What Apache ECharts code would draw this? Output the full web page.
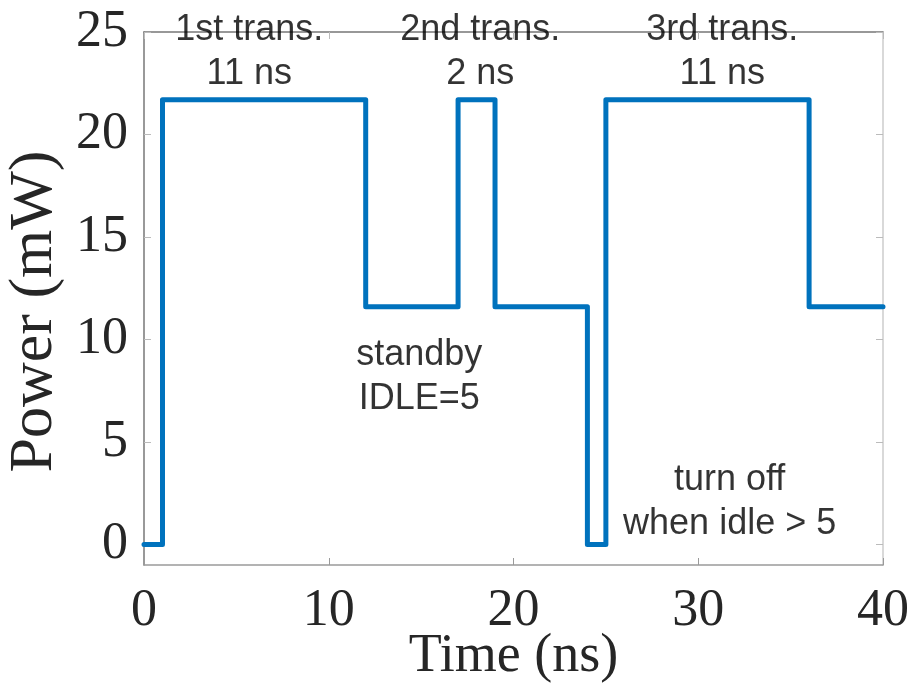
<!DOCTYPE html>
<html>
<head>
<meta charset="utf-8">
<script src="https://cdn.jsdelivr.net/npm/echarts@6/dist/echarts.min.js"></script>
<style>html,body{margin:0;padding:0;background:#fff;}#chart{width:918px;height:700px;}</style>
</head>
<body>
<div id="chart"></div>
<script>
// Data
var timeNs = [0, 1, 12, 17, 19, 24, 25, 36, 40];
var powerMW = [0, 21.7, 11.6, 21.7, 11.6, 0, 21.7, 11.6, 11.6];
var xTicks = [0, 10, 20, 30, 40];
var yTicks = [0, 5, 10, 15, 20, 25];
var annotationX = [5.7, 18.2, 31.3, 14.9, 31.7];
var annotationY = [24.0, 24.0, 24.0, 8.15, 2.05];
var annotationText = ['1st trans.\n11 ns', '2nd trans.\n2 ns', '3rd trans.\n11 ns', 'standby\nIDLE=5', 'turn off\nwhen idle > 5'];

var chart = echarts.init(document.getElementById('chart'), null, {renderer: 'canvas'});
var serif = 'Liberation Serif';
var sans = 'Liberation Sans';
var xMin = 0, xMax = 40, yMin = -1, yMax = 25;

var option = {
  animation: false,
  backgroundColor: '#fff',
  grid: {left: 144, right: 35, top: 32, bottom: 135, containLabel: false, outerBoundsMode: 'none'},
  xAxis: [{
    type: 'value', min: xMin, max: xMax, position: 'bottom',
    name: 'Time (ns)', nameLocation: 'middle', nameGap: 65, nameMoveOverlap: false,
    nameTextStyle: {fontFamily: serif, fontSize: 54, color: '#262626'},
    axisLine: {show: true, onZero: false, lineStyle: {color: '#9a9a9a', width: 1.5}},
    axisTick: {show: true, inside: true, length: 7, customValues: xTicks, lineStyle: {color: '#9a9a9a'}},
    axisLabel: {show: true, customValues: xTicks, margin: 20, fontFamily: serif, fontSize: 52, color: '#262626'},
    splitLine: {show: false}
  }, {
    type: 'value', min: xMin, max: xMax, position: 'top',
    axisLine: {show: true, onZero: false, lineStyle: {color: '#777', width: 1.5}},
    axisTick: {show: true, inside: true, length: 7, customValues: xTicks, lineStyle: {color: '#bbb'}},
    axisLabel: {show: false},
    splitLine: {show: false}
  }],
  yAxis: [{
    type: 'value', min: yMin, max: yMax, position: 'left',
    name: 'Power (mW)', nameLocation: 'middle', nameGap: 78, nameRotate: 90, nameMoveOverlap: false,
    nameTextStyle: {fontFamily: serif, fontSize: 62, color: '#262626', padding: [0, 26, 0, 0]},
    axisLine: {show: true, onZero: false, lineStyle: {color: '#777', width: 1.5}},
    axisTick: {show: true, inside: true, length: 7, customValues: yTicks, lineStyle: {color: '#bbb'}},
    axisLabel: {show: true, customValues: yTicks, margin: 16, fontFamily: serif, fontSize: 52, color: '#262626'},
    splitLine: {show: false}
  }, {
    type: 'value', min: yMin, max: yMax, position: 'right',
    axisLine: {show: true, onZero: false, lineStyle: {color: '#cccccc', width: 1.5}},
    axisTick: {show: true, inside: true, length: 7, customValues: yTicks, lineStyle: {color: '#bbb'}},
    axisLabel: {show: false},
    splitLine: {show: false}
  }],
  series: [{
    type: 'line',
    step: 'end',
    data: timeNs.map(function (t, i) { return [t, powerMW[i]]; }),
    showSymbol: false,
    symbol: 'none',
    lineStyle: {color: '#0072BD', width: 5, join: 'round', cap: 'round'},
    z: 3
  }, {
    type: 'scatter',
    clip: false,
    symbolSize: 0,
    data: annotationX.map(function (x, i) { return [x, annotationY[i], annotationText[i]]; }),
    label: {
      show: true, position: 'inside',
      formatter: function (p) { return p.data[2]; },
      fontFamily: sans, fontSize: 36, lineHeight: 44, color: '#000', align: 'center', verticalAlign: 'middle'
    },
    emphasis: {disabled: true},
    z: 4
  }]
};
chart.setOption(option);
</script>
</body>
</html>
